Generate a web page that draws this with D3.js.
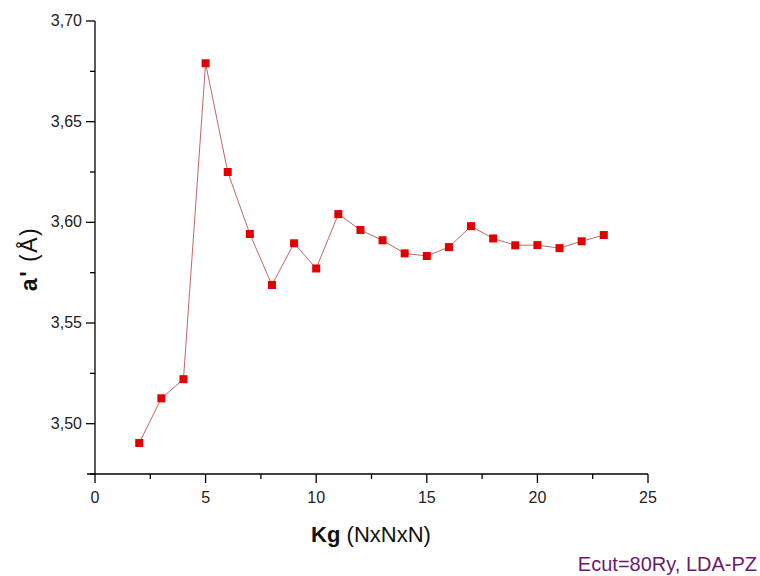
<!DOCTYPE html>
<html lang="en">
<head>
    <meta charset="UTF-8">
    <title>a' vs Kg</title>
    <script src="https://cdn.jsdelivr.net/npm/d3@7/dist/d3.min.js"></script>
    <style>
        *{ padding: 0; margin: 0; }
        body{ background: #fff; }
        svg{ display: block; font-family: "Liberation Sans", Arial, sans-serif; }
    </style>
</head>
<body>
<script>
    // k-grid size N (NxNxN) and lattice parameter a' in Angstrom
    let kgrid = [2,3,4,5,6,7,8,9,10,11,12,13,14,15,16,17,18,19,20,21,22,23];
    let aPrime = [3.4904,3.5126,3.5221,3.6790,3.6250,3.5942,3.5689,3.5896,3.5771,3.6041,3.5962,
                  3.5911,3.5846,3.5833,3.5877,3.5981,3.5920,3.5886,3.5887,3.5872,3.5906,3.5937];
    let xTicks = [0,5,10,15,20,25];
    let yTicks = [3.50,3.55,3.60,3.65,3.70];

    let W = 760, H = 576;
    let pLeft = 95, pRight = 648, pTop = 21, pBottom = 474;

    let svg = d3.select("body").append("svg")
        .attr("width", W)
        .attr("height", H);

    let x = d3.scaleLinear().domain([0,25]).range([pLeft,pRight]);
    let y = d3.scaleLinear().domain([3.50,3.70]).range([423.7,pTop]);

    // x axis
    let gx = svg.append("g").attr("transform","translate(0,"+pBottom+")");
    gx.append("line").attr("x1",pLeft-8).attr("x2",pRight).attr("stroke","#000").attr("stroke-width",1.3);
    gx.selectAll(".minor").data(d3.range(2.5,25,5)).enter().append("line")
        .attr("x1",d=>x(d)).attr("x2",d=>x(d)).attr("y1",0).attr("y2",5)
        .attr("stroke","#000").attr("stroke-width",1.3);
    gx.selectAll(".major").data(xTicks).enter().append("line")
        .attr("x1",d=>x(d)).attr("x2",d=>x(d)).attr("y1",0).attr("y2",9)
        .attr("stroke","#000").attr("stroke-width",1.3);
    gx.selectAll("text").data(xTicks).enter().append("text")
        .attr("x",d=>x(d)).attr("y",29)
        .attr("text-anchor","middle")
        .attr("font-size",16).attr("fill","#222")
        .text(d=>d);

    // y axis
    let gy = svg.append("g");
    gy.append("line").attr("x1",pLeft).attr("x2",pLeft).attr("y1",pTop).attr("y2",pBottom)
        .attr("stroke","#000").attr("stroke-width",1.3);
    gy.selectAll(".minor").data([3.475,3.525,3.575,3.625,3.675]).enter().append("line")
        .attr("x1",pLeft-5).attr("x2",pLeft).attr("y1",d=>y(d)).attr("y2",d=>y(d))
        .attr("stroke","#000").attr("stroke-width",1.3);
    gy.selectAll(".major").data(yTicks).enter().append("line")
        .attr("x1",pLeft-9).attr("x2",pLeft).attr("y1",d=>y(d)).attr("y2",d=>y(d))
        .attr("stroke","#000").attr("stroke-width",1.3);
    gy.selectAll("text").data(yTicks).enter().append("text")
        .attr("x",pLeft-13).attr("y",d=>y(d)+5)
        .attr("text-anchor","end")
        .attr("font-size",16).attr("fill","#222")
        .text(d=>d.toFixed(2).replace(".",","));

    // axis titles
    let xt = svg.append("text").attr("x",371).attr("y",542)
        .attr("text-anchor","middle").attr("font-size",22).attr("fill","#111");
    xt.append("tspan").attr("font-weight","bold").text("Kg");
    xt.append("tspan").text(" (NxNxN)");

    let yt = svg.append("text")
        .attr("transform","translate(37,259) rotate(-90)")
        .attr("text-anchor","middle").attr("font-size",23)
        .attr("letter-spacing",1.5).attr("fill","#111");
    yt.append("tspan").attr("font-weight","bold").text("a'");
    yt.append("tspan").text(" (Å)");

    svg.append("text").attr("x",757).attr("y",571)
        .attr("text-anchor","end").attr("font-size",20).attr("fill","#6b1a6b")
        .text("Ecut=80Ry, LDA-PZ");

    // series
    let pts = kgrid.map((k,i)=>({k:k, a:aPrime[i]}));
    svg.append("path").datum(pts)
        .attr("d", d3.line().x(d=>x(d.k)).y(d=>y(d.a)))
        .attr("fill","none").attr("stroke","#c06868").attr("stroke-width",1);
    let s = 8;
    svg.selectAll(".pt").data(pts).enter().append("rect")
        .attr("x",d=>x(d.k)-s/2).attr("y",d=>y(d.a)-s/2)
        .attr("width",s).attr("height",s)
        .attr("fill","#e00000");
</script>
</body>
</html>
